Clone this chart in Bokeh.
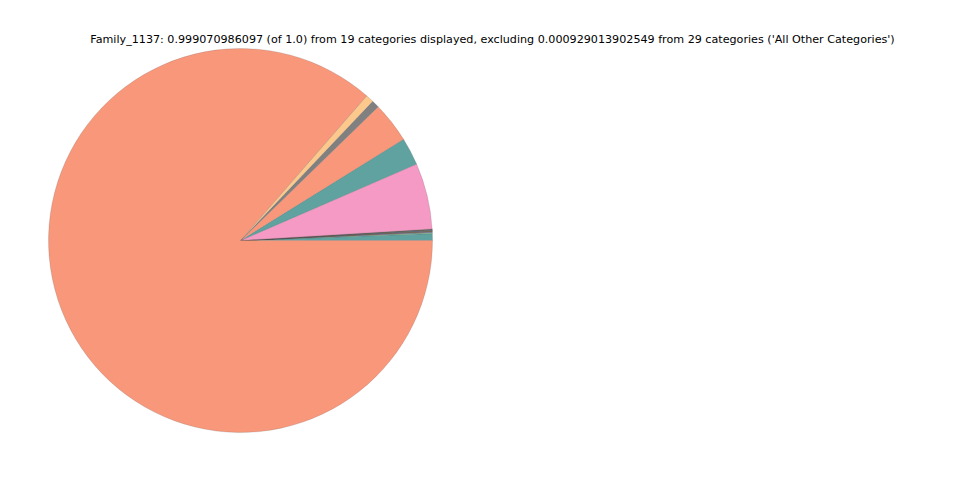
import math
from bokeh.plotting import figure
from bokeh.models import Range1d, ColumnDataSource
from bokeh.core.properties import value
from bokeh.embed import file_html
from bokeh.resources import INLINE

# Data (counter-clockwise from 3 o'clock)
categories = ["Cat_01", "Cat_02", "Cat_03", "Cat_04", "Cat_05", "Cat_06", "Cat_07",
              "Cat_08", "Cat_09", "Cat_10", "Cat_11", "Cat_12", "Cat_13", "Cat_14",
              "Cat_15", "Cat_16", "Cat_17", "Cat_18", "Cat_19"]
fractions = [0.00583, 0.0006, 0.0005, 0.0004, 0.0004, 0.0003, 0.0003, 0.0003,
             0.0002, 0.0002, 0.0002, 0.0002, 0.0001,
             0.0556, 0.0233, 0.0342, 0.0064, 0.0067, 0.86334]
colors = ["#5fa2a0", "#8cd28c", "#4f9a98", "#8c6ec8", "#8c5028", "#6a6a3a", "#9a70b0",
          "#3a7ab8", "#c8a040", "#50a050", "#b05050", "#707070", "#404080",
          "#f49ac4", "#5fa2a0", "#f8977a", "#808080", "#fcc88c", "#f8977a"]
title_text = ("Family_1137: 0.999070986097 (of 1.0) from 19 categories displayed, "
              "excluding 0.000929013902549 from 29 categories ('All Other Categories')")

W, H = 944, 464
total = sum(fractions)
starts, ends = [], []
acc = 0.0
for f in fractions:
    starts.append(2 * math.pi * acc / total)
    acc += f
    ends.append(2 * math.pi * acc / total)

src = ColumnDataSource(dict(cat=categories, frac=fractions, color=colors,
                            start=starts, end=ends))

p = figure(width=W, height=H, output_backend="svg", toolbar_location=None,
           x_range=Range1d(0, W), y_range=Range1d(0, H), min_border=0)
p.axis.visible = False
p.grid.visible = False
p.outline_line_color = None
p.background_fill_color = "white"
p.border_fill_color = "white"

p.wedge(x=240, y=H - 240, radius=192, start_angle="start", end_angle="end",
        fill_color="color", line_color="#555555", line_width=0.3, line_alpha=0.6,
        source=src)

p.text(x=[492], y=[H - 39], text=[title_text], text_font=value("DejaVu Sans"),
       text_font_size="11.15px", text_align="center", text_baseline="middle",
       text_color="black")

open("out.html", "w").write(file_html(p, INLINE))
